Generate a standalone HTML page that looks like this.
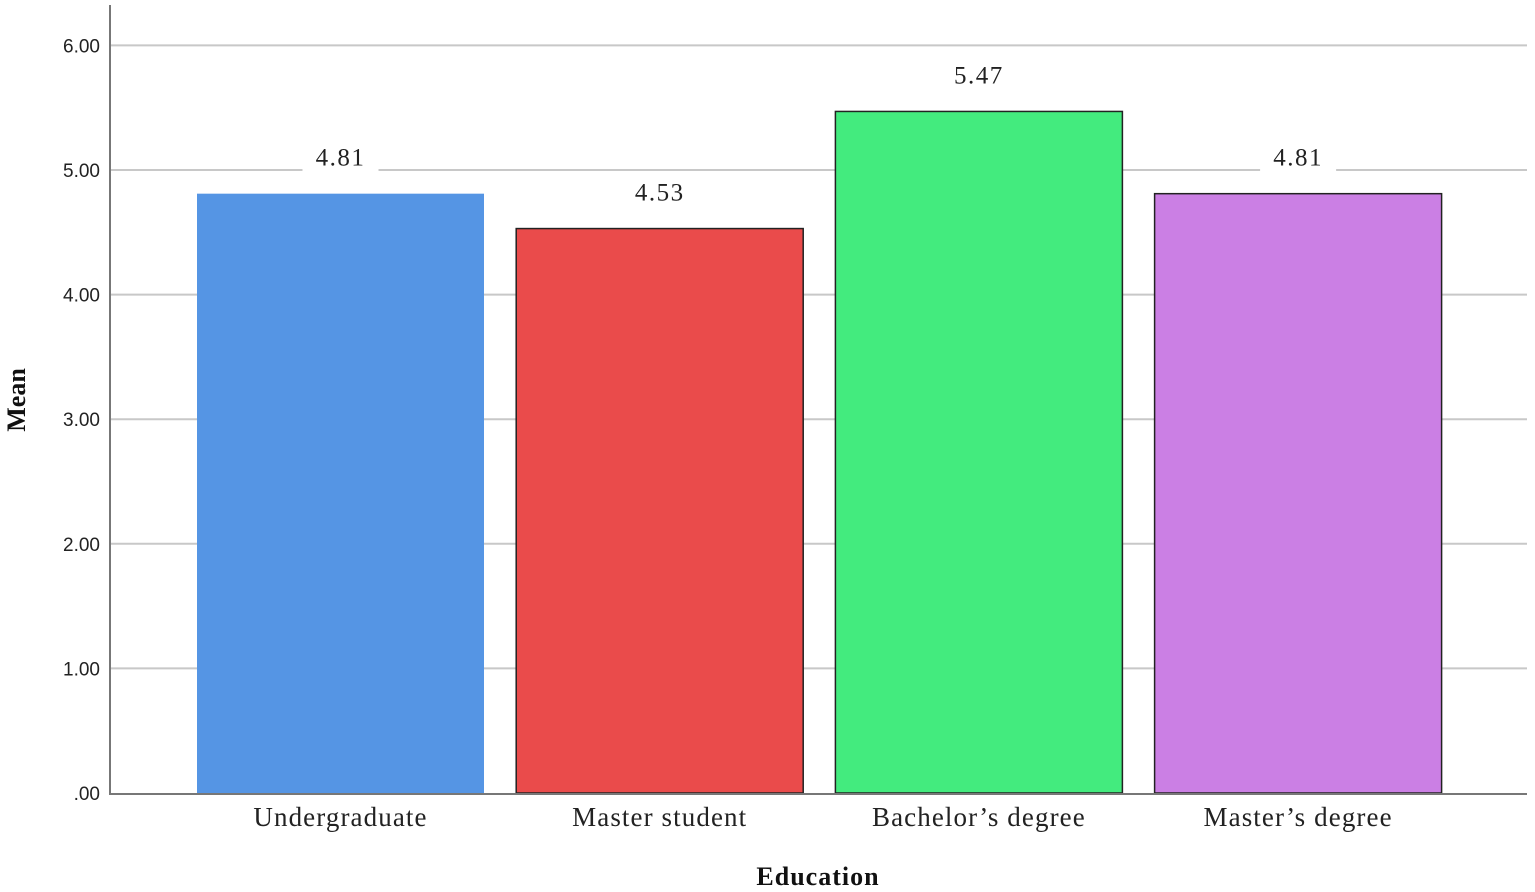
<!DOCTYPE html>
<html><head><meta charset="utf-8"><style>
html,body{margin:0;padding:0;background:#fff;width:1535px;height:892px;overflow:hidden}
</style></head><body>
<svg id="chart" width="1535" height="892" xmlns="http://www.w3.org/2000/svg"></svg>
<script>
const categories = ["Undergraduate","Master student","Bachelor\u2019s degree","Master\u2019s degree"];
const values = [4.81,4.53,5.47,4.81];
const valueLabels = ["4.81","4.53","5.47","4.81"];
const ticks = [0,1,2,3,4,5,6];
const tickLabels = [".00","1.00","2.00","3.00","4.00","5.00","6.00"];
const colors = ["#5595e4","#ea4b4b","#43eb7e","#cb7fe4"];
const strokes = ["none","#222","#222","#222"];

const svg = document.getElementById('chart');
const NS = 'http://www.w3.org/2000/svg';
const y0 = 793, unit = 124.6;
const yScale = v => y0 - v * unit;
const xScale = i => 197 + i * 319.2;
const barW = 287;
function mk(tag, attrs){const e=document.createElementNS(NS,tag);for(const k in attrs)e.setAttribute(k,attrs[k]);svg.appendChild(e);return e;}

ticks.forEach((t,i)=>{
  if(t>0){const g=mk('line',{x1:110,x2:1527,y1:yScale(t),y2:yScale(t),stroke:'#c8c8c8','stroke-width':2});
  
  }
  const tl=mk('text',{x:100,y:yScale(t)+7,'text-anchor':'end','font-family':'Liberation Sans, sans-serif','font-size':19,fill:'#222'});
  tl.textContent=tickLabels[i];
  
  
});

values.forEach((v,i)=>{
  const x=xScale(i), y=yScale(v);
  const b=mk('rect',{x:x,y:y,width:barW,height:y0-y,fill:colors[i],stroke:strokes[i],'stroke-width':1.5});
  
  
  const cx=x+barW/2, ly=y-28;
  const bg=mk('rect',{x:cx-38,y:ly-22,width:76,height:30,fill:'#fff'});
  
  
  const t=mk('text',{x:cx,y:ly,'text-anchor':'middle','font-family':'Liberation Serif, serif','font-size':25,'letter-spacing':1.5,fill:'#222'});
  t.textContent=valueLabels[i];
  
  
  const c=mk('text',{x:cx,y:826,'text-anchor':'middle','font-family':'Liberation Serif, serif','font-size':27,'letter-spacing':1.1,fill:'#222'});
  c.textContent=categories[i];
  
  
});

const ax=mk('line',{x1:110,x2:110,y1:5,y2:794,stroke:'#777','stroke-width':2});


const xa=mk('line',{x1:109,x2:1527,y1:794,y2:794,stroke:'#777','stroke-width':2});



const xt=mk('text',{x:818,y:885,'text-anchor':'middle','font-family':'Liberation Serif, serif','font-size':26,'font-weight':'bold','letter-spacing':1,fill:'#111'});
xt.textContent='Education';


const yt=mk('text',{x:0,y:0,'text-anchor':'middle','font-family':'Liberation Serif, serif','font-size':26,'font-weight':'bold',fill:'#111',transform:'translate(25,400) rotate(-90)'});
yt.textContent='Mean';


</script>
</body></html>
